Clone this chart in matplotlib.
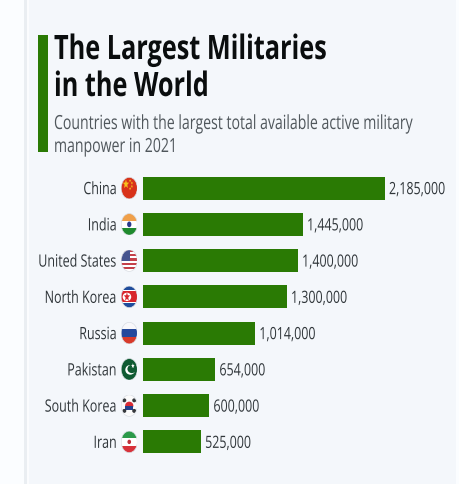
import math
import matplotlib
matplotlib.use("Agg")
import matplotlib.pyplot as plt
from matplotlib.patches import Ellipse, Rectangle, Circle, Polygon
from matplotlib.patheffects import AbstractPathEffect
from matplotlib.transforms import Affine2D

W, H = 460, 484
countries = ["China", "India", "United States", "North Korea", "Russia", "Pakistan", "South Korea", "Iran"]
troops = [2185000, 1445000, 1400000, 1300000, 1014000, 654000, 600000, 525000]
title_lines = ["The Largest Militaries", "in the World"]
subtitle_lines = ["Countries with the largest total available active military", "manpower in 2021"]
GREEN = "#2a7a04"
PANEL = "#f4f7fb"
INK = "#30363a"

plt.rcParams["font.family"] = ["Open Sans", "DejaVu Sans"]


class Tall(AbstractPathEffect):
    """Stretch glyphs vertically about the baseline for a condensed look."""

    def __init__(self, factor):
        super().__init__()
        self.factor = factor

    def draw_path(self, renderer, gc, tpath, affine, rgbFace=None):
        renderer.draw_path(gc, tpath, Affine2D().scale(1, self.factor) + affine, rgbFace)


fig = plt.figure(figsize=(W / 100, H / 100), dpi=100, facecolor="#fbfdff")

# Page backdrop and header, laid out in pixel coordinates
page = fig.add_axes([0, 0, 1, 1], zorder=0)
page.set_xlim(0, W)
page.set_ylim(H, 0)
page.axis("off")
page.add_patch(Rectangle((24, 0), 3, H, color="#eaeef2", lw=0))
page.add_patch(Rectangle((27, 0), 2, H, color="#fbfcfe", lw=0))
page.add_patch(Rectangle((29, 0), 427, H, color=PANEL, lw=0))
page.add_patch(Rectangle((38, 35), 10, 117, color=GREEN, lw=0))
for y, line in zip((59, 96), title_lines):
    page.text(54, y, line, fontsize=18.2, fontweight="bold", color="#0a0d0e", va="baseline", ha="left",
              path_effects=[Tall(1.33)])
for y, line in zip((129, 152), subtitle_lines):
    page.text(54, y, line, fontsize=10.15, color="#50575c", va="baseline", ha="left",
              path_effects=[Tall(1.38)])

# Horizontal bars: eight 36.25 px rows starting at y = 170
x0, x1 = 143, 385
y_top, y_bot = 170, 460
ax = fig.add_axes([x0 / W, 1 - y_bot / H, (x1 - x0) / W, (y_bot - y_top) / H], zorder=1)
ax.patch.set_alpha(0)
ax.barh(range(len(troops)), troops, height=0.635, color=GREEN, edgecolor="none")
ax.set_xlim(0, troops[0])
ax.set_ylim(len(troops) - 0.5, -0.5)
for s in ax.spines.values():
    s.set_visible(False)
ax.set_xticks([])
ax.set_yticks([])
for i, (name, v) in enumerate(zip(countries, troops)):
    ax.annotate(name, (0, i), xytext=(-26, -6), textcoords="offset pixels", va="baseline", ha="right",
                fontsize=9.0, color=INK, annotation_clip=False, path_effects=[Tall(1.36)])
    ax.annotate(f"{v:,}", (v, i), xytext=(4, -6), textcoords="offset pixels", va="baseline", ha="left",
                fontsize=8.95, color=INK, annotation_clip=False, path_effects=[Tall(1.36)])


def flag_axes(i):
    """Small axes holding one oval flag, in unit coordinates."""
    cy = y_top + (i + 0.5) * (y_bot - y_top) / len(troops)
    a = fig.add_axes([121 / W, 1 - (cy + 11) / H, 16.5 / W, 22 / H], zorder=2)
    a.set_xlim(0, 1)
    a.set_ylim(1, 0)
    a.axis("off")
    clip = Ellipse((0.5, 0.5), 0.98, 0.98, transform=a.transData, fc="none", ec="#d9dde3", lw=0.5, zorder=5)
    a.add_patch(clip)
    return a, clip


def bands(a, clip, colors):
    n = len(colors)
    for k, c in enumerate(colors):
        r = a.add_patch(Rectangle((0, k / n), 1, 1 / n, color=c, lw=0))
        r.set_clip_path(clip)


def put(a, clip, patch):
    a.add_patch(patch).set_clip_path(clip)


def star(cx, cy, r, color):
    pts = []
    for k in range(10):
        rad = r if k % 2 == 0 else r * 0.42
        t = -math.pi / 2 + k * math.pi / 5
        pts.append((cx + rad * math.cos(t), cy + rad * 1.1 * math.sin(t)))
    return Polygon(pts, color=color, lw=0)


# China
a, c = flag_axes(0)
bands(a, c, ["#d8321a"])
put(a, c, star(.3, .32, .2, "#f6c21c"))
for sx, sy in ((.55, .16), (.66, .27), (.66, .42), (.55, .52)):
    put(a, c, star(sx, sy, .07, "#f6c21c"))
# India
a, c = flag_axes(1)
bands(a, c, ["#f0a04a", "#ffffff", "#1f8a2e"])
put(a, c, Circle((.5, .5), .13, fc="#2b3a8c", lw=0))
# United States
a, c = flag_axes(2)
bands(a, c, ["#c4404a", "#ffffff"] * 5)
put(a, c, Rectangle((0, 0), .56, .5, color="#46548f", lw=0))
# North Korea
a, c = flag_axes(3)
bands(a, c, ["#1f4c9c"])
put(a, c, Rectangle((0, .2), 1, .6, color="#ffffff", lw=0))
put(a, c, Rectangle((0, .25), 1, .5, color="#d8262c", lw=0))
put(a, c, Ellipse((.36, .5), .52, .38, fc="#ffffff", lw=0))
put(a, c, star(.36, .5, .2, "#d8262c"))
# Russia
a, c = flag_axes(4)
bands(a, c, ["#f8f8fb", "#24489c", "#d83a2a"])
# Pakistan
a, c = flag_axes(5)
bands(a, c, ["#0f5a32"])
put(a, c, Ellipse((.56, .52), .6, .44, fc="#ffffff", lw=0))
put(a, c, Ellipse((.66, .48), .54, .38, fc="#0f5a32", lw=0))
put(a, c, star(.72, .34, .11, "#ffffff"))
# South Korea
a, c = flag_axes(6)
bands(a, c, ["#fbfbfb"])
put(a, c, Ellipse((.5, .5), .5, .36, fc="#d82a34", lw=0))
put(a, c, Rectangle((.25, .5), .5, .18, color="#24408c", lw=0))
for px, py in ((.2, .26), (.8, .26), (.2, .74), (.8, .74)):
    put(a, c, Ellipse((px, py), .24, .18, fc="#35383c", lw=0))
# Iran
a, c = flag_axes(7)
bands(a, c, ["#2b9a4a", "#ffffff", "#d8323a"])
put(a, c, Ellipse((.5, .5), .22, .2, fc="#c0303a", lw=0))

fig.savefig("out.png", dpi=100, facecolor=fig.get_facecolor())
